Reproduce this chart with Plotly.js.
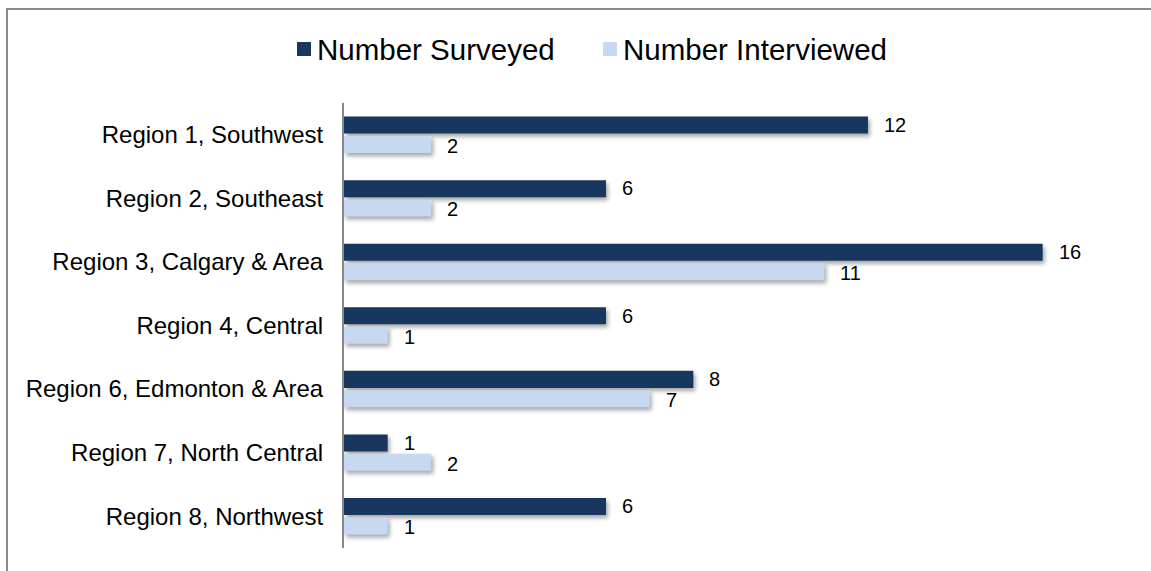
<!DOCTYPE html>
<html>
<head>
<meta charset="utf-8">
<script src="https://cdn.plot.ly/plotly-3.0.1.min.js"></script>
<style>
  html, body { margin: 0; padding: 0; background: #fff; overflow: hidden; }
  #wrap { position: relative; width: 1151px; height: 571px; }
  #chart { position: absolute; left: 0; top: 0; width: 1151px; height: 571px; }
  #frame { position: absolute; left: 6px; top: 8px; width: 1300px; height: 700px;
           border-left: 2px solid #8c8c8c; border-top: 2px solid #8c8c8c; pointer-events: none; }
  .barlayer .point path { filter: drop-shadow(2px 3px 2px rgba(0,0,0,0.35)); }
</style>
</head>
<body>
<div id="wrap">
  <div id="chart"></div>
  <div id="frame"></div>
</div>
<script>
const regions = [
  "Region 1, Southwest",
  "Region 2, Southeast",
  "Region 3, Calgary & Area",
  "Region 4, Central",
  "Region 6, Edmonton & Area",
  "Region 7, North Central",
  "Region 8, Northwest"
];
const numberSurveyed = [12, 6, 16, 6, 8, 1, 6];
const numberInterviewed = [2, 2, 11, 1, 7, 2, 1];
const seriesNames = ["Number Surveyed", "Number Interviewed"];

const darkBlue = "#17375E";
const lightBlue = "#C6D9F1";
const seriesColors = [darkBlue, lightBlue];

const traces = [
  { type: "bar", orientation: "h", name: seriesNames[0], y: regions, x: numberSurveyed,
    marker: { color: darkBlue }, hoverinfo: "x+y", showlegend: false },
  { type: "bar", orientation: "h", name: seriesNames[1], y: regions, x: numberInterviewed,
    marker: { color: lightBlue }, hoverinfo: "x+y", showlegend: false }
];

const labelFont = { family: "Liberation Sans, Arial, sans-serif", size: 20, color: "#000" };
const annotations = [];
regions.forEach((r, i) => {
  annotations.push({ x: numberSurveyed[i], y: r, text: String(numberSurveyed[i]), showarrow: false,
    xanchor: "left", xshift: 14, yshift: 10, font: labelFont });
  annotations.push({ x: numberInterviewed[i], y: r, text: String(numberInterviewed[i]), showarrow: false,
    xanchor: "left", xshift: 14, yshift: -11, font: labelFont });
});

// custom legend (layout geometry in pixels converted to paper coordinates)
const W = 1151, H = 571, M = { l: 344, r: 21, t: 103, b: 23 };
const pw = W - M.l - M.r, ph = H - M.t - M.b;
const px = p => (p - M.l) / pw;
const py = p => (H - M.b - p) / ph;
const legendStarts = [297, 603];
const shapes = [];
seriesNames.forEach((name, k) => {
  const x0 = legendStarts[k];
  shapes.push({ type: "rect", xref: "paper", yref: "paper",
    x0: px(x0), x1: px(x0 + 14), y0: py(56), y1: py(42),
    fillcolor: seriesColors[k], line: { width: 0 } });
  annotations.push({ xref: "paper", yref: "paper", x: px(x0 + 18), y: py(49),
    xanchor: "left", yanchor: "middle", showarrow: false, text: name,
    font: { family: "Liberation Sans, Arial, sans-serif", size: 29.5, color: "#000" } });
});

const layout = {
  width: W, height: H,
  margin: M,
  paper_bgcolor: "#fff", plot_bgcolor: "#fff",
  barmode: "group", bargap: 0.39, bargroupgap: 0.12,
  font: { family: "Liberation Sans, Arial, sans-serif", color: "#000" },
  showlegend: false,
  xaxis: { range: [0, 18], visible: false, showgrid: false, zeroline: false },
  yaxis: { autorange: "reversed", showline: true, linecolor: "#888888", linewidth: 2,
    ticks: "", ticklabelstandoff: 14, tickfont: { size: 24, color: "#000" }, showgrid: false },
  shapes: shapes,
  annotations: annotations
};

Plotly.newPlot("chart", traces, layout, { displayModeBar: false, staticPlot: true });
</script>
</body>
</html>
